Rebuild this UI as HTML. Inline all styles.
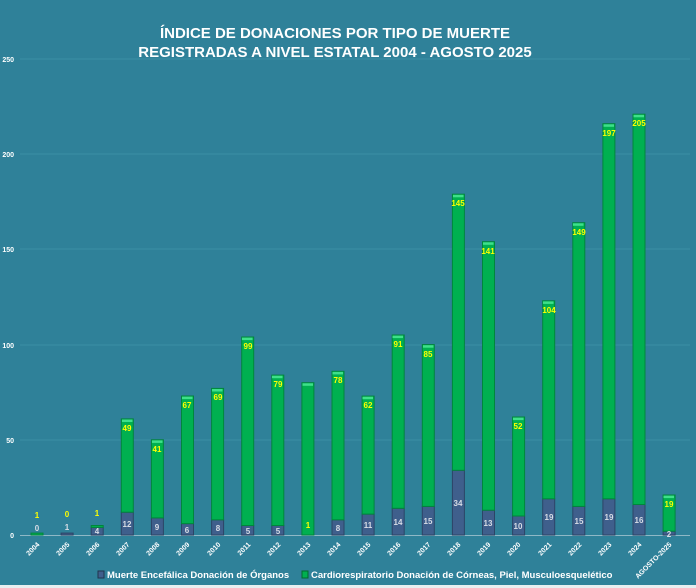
<!DOCTYPE html>
<html><head><meta charset="utf-8"><style>
body{margin:0;background:#2f8199;}
svg{display:block;font-family:"Liberation Sans",sans-serif;}
.g{fill:#00b050;stroke:#00863c;stroke-width:1}
.b{fill:#3f5f8c;stroke:#2c4466;stroke-width:1}
.yl{fill:#ffff00;font-size:8px;font-weight:bold;text-anchor:middle}
.wl{fill:#d8dde6;font-size:8px;font-weight:bold;text-anchor:middle}
.ax{fill:#fff;font-size:7px;font-weight:bold}
</style></head><body>
<svg width="696" height="588" viewBox="0 0 696 588">
<rect width="696" height="588" fill="#2f8199"/>
<text x="335" y="38" fill="#fff" font-size="15" font-weight="bold" text-anchor="middle">ÍNDICE DE DONACIONES POR TIPO DE MUERTE</text>
<text x="335" y="57" fill="#fff" font-size="15" font-weight="bold" text-anchor="middle">REGISTRADAS A NIVEL ESTATAL 2004 - AGOSTO 2025</text>
<g stroke="#3b8ea5" stroke-width="1">
<line x1="20" y1="59" x2="690" y2="59"/><line x1="20" y1="154" x2="690" y2="154"/><line x1="20" y1="249" x2="690" y2="249"/><line x1="20" y1="345" x2="690" y2="345"/><line x1="20" y1="440" x2="690" y2="440"/>
</g>
<line x1="20" y1="535.5" x2="690" y2="535.5" stroke="#8fb8c6" stroke-width="1"/>
<g class="ax" text-anchor="end">
<text x="14" y="62">250</text><text x="14" y="157">200</text><text x="14" y="252">150</text><text x="14" y="348">100</text><text x="14" y="443">50</text><text x="14" y="538">0</text>
</g>
<g>
<rect class="g" x="31" y="533.1" width="12" height="1.9"/>
<rect class="b" x="61.1" y="533.1" width="12" height="1.9"/>
<rect class="b" x="91.2" y="527.4" width="12" height="7.6"/><rect class="g" x="91.2" y="525.5" width="12" height="1.9"/>
<rect class="b" x="121.3" y="512.2" width="12" height="22.8"/><rect class="g" x="121.3" y="418.9" width="12" height="93.3"/>
<rect class="b" x="151.4" y="517.9" width="12" height="17.1"/><rect class="g" x="151.4" y="439.8" width="12" height="78.1"/>
<rect class="b" x="181.5" y="523.6" width="12" height="11.4"/><rect class="g" x="181.5" y="396" width="12" height="127.6"/>
<rect class="b" x="211.6" y="519.8" width="12" height="15.2"/><rect class="g" x="211.6" y="388.4" width="12" height="131.4"/>
<rect class="b" x="241.7" y="525.5" width="12" height="9.5"/><rect class="g" x="241.7" y="337" width="12" height="188.5"/>
<rect class="b" x="271.8" y="525.5" width="12" height="9.5"/><rect class="g" x="271.8" y="375.1" width="12" height="150.4"/>
<rect class="g" x="301.9" y="382.7" width="12" height="152.3"/>
<rect class="b" x="332" y="519.8" width="12" height="15.2"/><rect class="g" x="332" y="371.3" width="12" height="148.5"/>
<rect class="b" x="362.1" y="514.1" width="12" height="20.9"/><rect class="g" x="362.1" y="396.1" width="12" height="118"/>
<rect class="b" x="392.2" y="508.3" width="12" height="26.7"/><rect class="g" x="392.2" y="335" width="12" height="173.3"/>
<rect class="b" x="422.3" y="506.4" width="12" height="28.6"/><rect class="g" x="422.3" y="344.6" width="12" height="161.8"/>
<rect class="b" x="452.4" y="470.3" width="12" height="64.7"/><rect class="g" x="452.4" y="194.2" width="12" height="276.1"/>
<rect class="b" x="482.5" y="510.2" width="12" height="24.8"/><rect class="g" x="482.5" y="241.7" width="12" height="268.5"/>
<rect class="b" x="512.6" y="516" width="12" height="19"/><rect class="g" x="512.6" y="417" width="12" height="99"/>
<rect class="b" x="542.7" y="498.8" width="12" height="36.2"/><rect class="g" x="542.7" y="300.8" width="12" height="198"/>
<rect class="b" x="572.8" y="506.4" width="12" height="28.6"/><rect class="g" x="572.8" y="222.7" width="12" height="283.7"/>
<rect class="b" x="602.9" y="498.8" width="12" height="36.2"/><rect class="g" x="602.9" y="123.7" width="12" height="375.1"/>
<rect class="b" x="633" y="504.5" width="12" height="30.5"/><rect class="g" x="633" y="114.2" width="12" height="390.3"/>
<rect class="b" x="663.1" y="531.2" width="12" height="3.8"/><rect class="g" x="663.1" y="495" width="12" height="36.2"/>
</g>
<g fill="#3ee08a">
<rect x="122" y="419.5" width="10.5" height="2.5"/><rect x="152" y="440.4" width="10.5" height="2.5"/><rect x="182" y="396.6" width="10.5" height="2.5"/><rect x="212" y="389" width="10.5" height="2.5"/><rect x="242" y="337.6" width="10.5" height="2.5"/><rect x="272" y="375.7" width="10.5" height="2.5"/><rect x="302.5" y="383.3" width="10.5" height="2.5"/><rect x="332.5" y="371.9" width="10.5" height="2.5"/><rect x="362.5" y="396.7" width="10.5" height="2.5"/><rect x="392.5" y="335.6" width="10.5" height="2.5"/><rect x="423" y="345.2" width="10.5" height="2.5"/><rect x="453" y="194.8" width="10.5" height="2.5"/><rect x="483" y="242.3" width="10.5" height="2.5"/><rect x="513" y="417.6" width="10.5" height="2.5"/><rect x="543" y="301.4" width="10.5" height="2.5"/><rect x="573" y="223.3" width="10.5" height="2.5"/><rect x="603.5" y="124.3" width="10.5" height="2.5"/><rect x="633.5" y="114.8" width="10.5" height="2.5"/><rect x="663.5" y="495.6" width="10.5" height="2.5"/>
</g>
<g class="yl">
<text x="37" y="518">1</text><text x="67" y="517">0</text><text x="97" y="516">1</text>
<text x="127" y="431">49</text><text x="157" y="452">41</text><text x="187" y="408">67</text><text x="218" y="400">69</text><text x="248" y="349">99</text><text x="278" y="387">79</text><text x="308" y="528">1</text><text x="338" y="383">78</text><text x="368" y="408">62</text><text x="398" y="347">91</text><text x="428" y="357">85</text><text x="458" y="206">145</text><text x="488" y="254">141</text><text x="518" y="429">52</text><text x="549" y="313">104</text><text x="579" y="235">149</text><text x="609" y="136">197</text><text x="639" y="126">205</text><text x="669" y="507">19</text>
</g>
<g class="wl">
<text x="37" y="531">0</text><text x="67" y="530">1</text><text x="97" y="534">4</text><text x="127" y="527">12</text><text x="157" y="530">9</text><text x="187" y="533">6</text><text x="218" y="531">8</text><text x="248" y="534">5</text><text x="278" y="534">5</text><text x="338" y="531">8</text><text x="368" y="528">11</text><text x="398" y="525">14</text><text x="428" y="524">15</text><text x="458" y="506">34</text><text x="488" y="526">13</text><text x="518" y="529">10</text><text x="549" y="520">19</text><text x="579" y="524">15</text><text x="609" y="520">19</text><text x="639" y="523">16</text><text x="669" y="537">2</text>
</g>
<g class="ax" text-anchor="end">
<text transform="translate(40,545) rotate(-45)">2004</text><text transform="translate(70,545) rotate(-45)">2005</text><text transform="translate(100,545) rotate(-45)">2006</text><text transform="translate(130,545) rotate(-45)">2007</text><text transform="translate(160,545) rotate(-45)">2008</text><text transform="translate(190,545) rotate(-45)">2009</text><text transform="translate(221,545) rotate(-45)">2010</text><text transform="translate(251,545) rotate(-45)">2011</text><text transform="translate(281,545) rotate(-45)">2012</text><text transform="translate(311,545) rotate(-45)">2013</text><text transform="translate(341,545) rotate(-45)">2014</text><text transform="translate(371,545) rotate(-45)">2015</text><text transform="translate(401,545) rotate(-45)">2016</text><text transform="translate(431,545) rotate(-45)">2017</text><text transform="translate(461,545) rotate(-45)">2018</text><text transform="translate(491,545) rotate(-45)">2019</text><text transform="translate(521,545) rotate(-45)">2020</text><text transform="translate(552,545) rotate(-45)">2021</text><text transform="translate(582,545) rotate(-45)">2022</text><text transform="translate(612,545) rotate(-45)">2023</text><text transform="translate(642,545) rotate(-45)">2024</text><text transform="translate(672,545) rotate(-45)">AGOSTO-2025</text>
</g>
<rect x="98" y="571" width="6" height="7" fill="#3f5f8c" stroke="#22344d"/>
<text x="107" y="578" fill="#fff" font-size="9.5" font-weight="bold">Muerte Encefálica Donación de Órganos</text>
<rect x="302" y="571" width="6" height="7" fill="#00b050" stroke="#006a2e"/>
<text x="311" y="578" fill="#fff" font-size="9.5" font-weight="bold">Cardiorespiratorio Donación de Córneas, Piel, Musculoesquelético</text>
<rect x="0" y="585" width="696" height="3" fill="#e8eef0"/>
</svg>
</body></html>
